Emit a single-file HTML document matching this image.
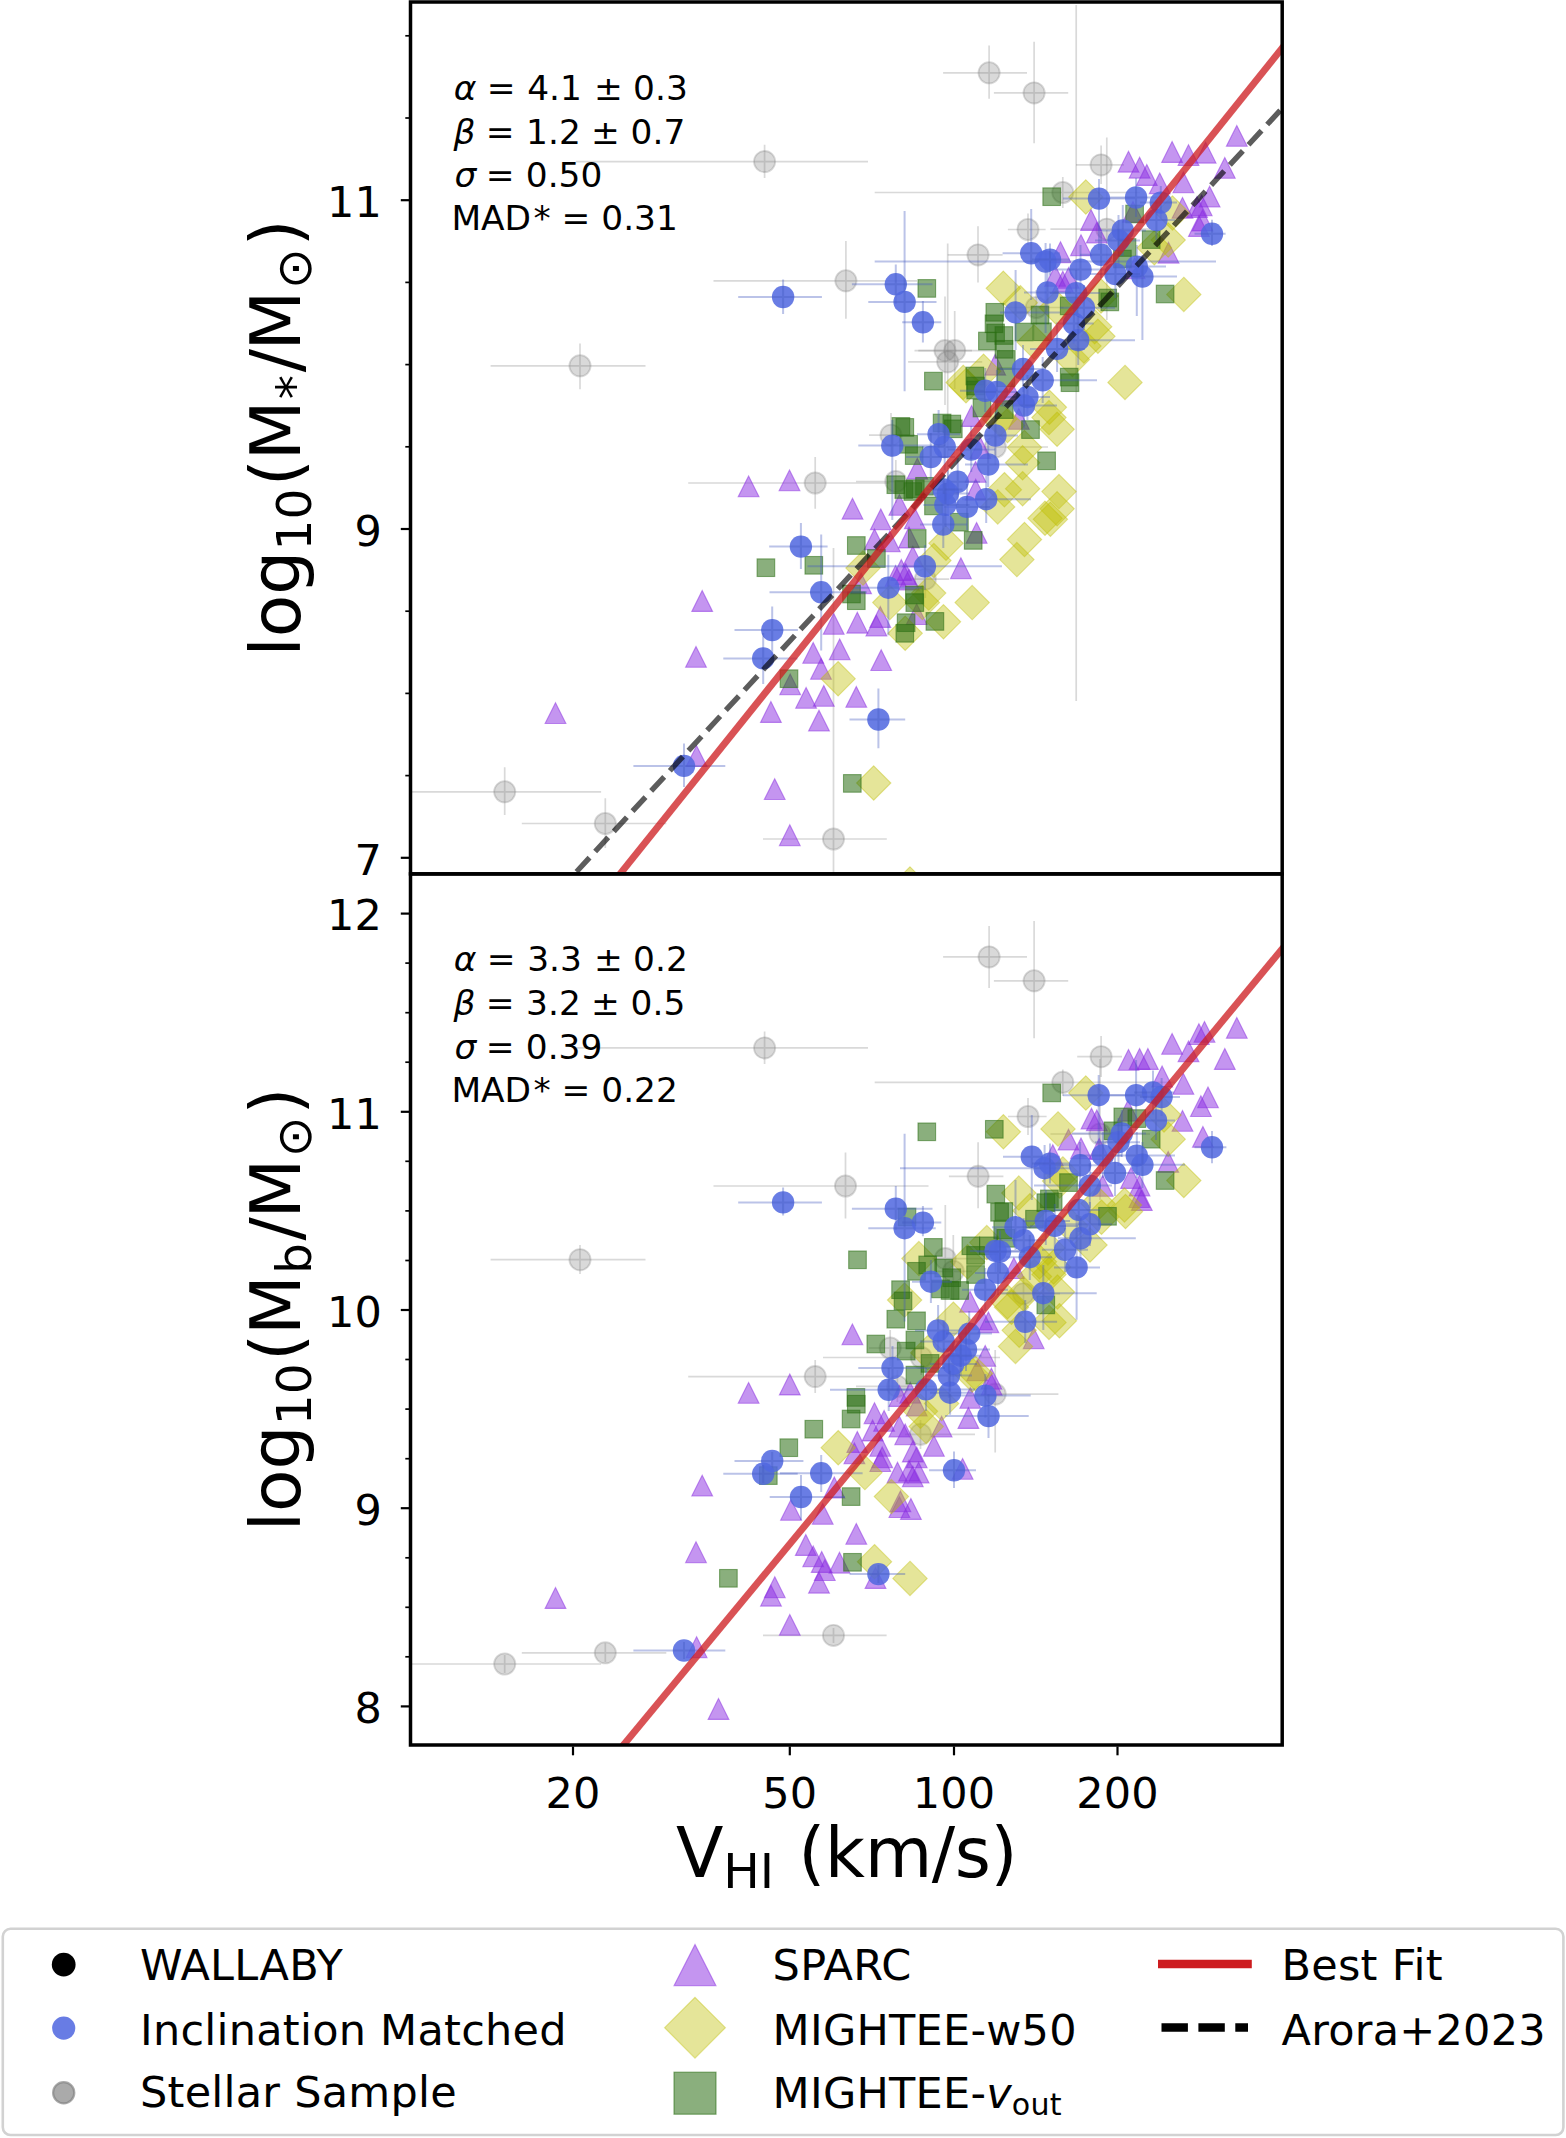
<!DOCTYPE html>
<html><head><meta charset="utf-8"><title>Tully-Fisher relations</title>
<style>html,body{margin:0;padding:0;background:#fff}svg{display:block}text{font-family:"DejaVu Sans", "Liberation Sans", sans-serif;fill:#000}.g{fill:#808080;fill-opacity:.3;stroke:#808080;stroke-opacity:.3;stroke-width:1.8}.ge{stroke:#808080;stroke-opacity:.3;stroke-width:1.7;fill:none}.b{fill:#5068e0;fill-opacity:.86;stroke:none}.be{stroke:#4258c0;stroke-opacity:.36;stroke-width:2;fill:none}.p{fill:#8a2be2;fill-opacity:.5;stroke:#8a2be2;stroke-opacity:.5;stroke-width:1.1;stroke-linejoin:miter}.y{fill:#bfbf00;fill-opacity:.4;stroke:#bfbf00;stroke-opacity:.4;stroke-width:1.1}.s{fill:#2a6e12;fill-opacity:.55;stroke:#2a6e12;stroke-opacity:.55;stroke-width:1.1}.sp{stroke:#000;stroke-width:3.5;fill:none}.tk{stroke:#000;stroke-width:2.2}.mk{stroke:#000;stroke-width:1.7}</style></head><body>
<svg width="1566" height="2138" viewBox="0 0 1566 2138">
<rect width="1566" height="2138" fill="#fff"/>
<defs><clipPath id="c1"><rect x="410.5" y="2.0" width="871.7" height="871.9"/></clipPath><clipPath id="c2"><rect x="410.5" y="873.9" width="871.7" height="871.1"/></clipPath></defs>
<g clip-path="url(#c1)">
<circle class="g" cx="764.6" cy="161.6" r="10.6"/>
<path class="ge" d="M575.8 161.6H868M764.6 144.7V177.9"/>
<circle class="g" cx="845.9" cy="280.8" r="10.6"/>
<path class="ge" d="M713.5 280.8H917M845.9 240.9V318.8"/>
<circle class="g" cx="580" cy="365.8" r="10.6"/>
<path class="ge" d="M490.6 365.8H645.5M580 343.4V389.2"/>
<circle class="g" cx="989.1" cy="72.8" r="10.6"/>
<path class="ge" d="M943.1 72.8H1027M989.1 45.6V98.7"/>
<circle class="g" cx="1034.1" cy="92.9" r="10.6"/>
<path class="ge" d="M993.9 92.9H1068.2M1034.1 41.8V143.3"/>
<circle class="g" cx="1101.1" cy="164.9" r="10.6"/>
<path class="ge" d="M1076 164.9H1124M1101.1 145.6V184"/>
<circle class="g" cx="1062.8" cy="192.5" r="10.6"/>
<path class="ge" d="M874.7 192.5H1140M1062.8 177V208"/>
<circle class="g" cx="1028" cy="229.5" r="10.6"/>
<path class="ge" d="M1007.9 229.5H1045.6M1028 213.6V245"/>
<circle class="g" cx="978" cy="254.9" r="10.6"/>
<path class="ge" d="M947.7 254.9H1002.6M978 226.2V282.4"/>
<circle class="g" cx="1106.8" cy="229.2" r="10.6"/>
<path class="ge" d="M1050.4 229.2H1150M1106.8 137.5V320"/>
<circle class="g" cx="945" cy="350.6" r="10.6"/>
<path class="ge" d="M918.3 350.6H972M945 296.4V405"/>
<circle class="g" cx="954.7" cy="350.6" r="10.6"/>
<path class="ge" d="M914.5 350.6H1000M954.7 311.1V389"/>
<circle class="g" cx="947.7" cy="361.8" r="10.6"/>
<path class="ge" d="M908.1 361.8H982.2M947.7 243.4V480"/>
<circle class="g" cx="1036.3" cy="307.5" r="10.6"/>
<path class="ge" d="M1004 307.5H1063.5M1036.3 290V325"/>
<circle class="g" cx="891" cy="435.2" r="10.6"/>
<path class="ge" d="M869 435.2H915M891 413V457"/>
<circle class="g" cx="815.2" cy="483" r="10.6"/>
<path class="ge" d="M688.2 483H889.4M815.2 456.9V508.8"/>
<circle class="g" cx="895.8" cy="481.5" r="10.6"/>
<path class="ge" d="M856 481.5H935M895.8 460V503"/>
<circle class="g" cx="995.3" cy="447" r="10.6"/>
<path class="ge" d="M980 447H1048M995.3 430V465"/>
<circle class="g" cx="504.7" cy="791.8" r="10.6"/>
<path class="ge" d="M400 791.8H601.1M504.7 767.3V815.1"/>
<circle class="g" cx="605.3" cy="823.5" r="10.6"/>
<path class="ge" d="M521.8 823.5H666.3M605.3 798.2V848"/>
<circle class="g" cx="833.5" cy="839" r="10.6"/>
<path class="ge" d="M763 839H886.8M833.5 548V900"/>
<path class="ge" d="M1076.2 352H1076.2M1076.2 5V701"/>
<circle class="g" cx="925.3" cy="579.2" r="10.6"/>
<path class="ge" d="M905 579.2H949M925.3 560V598"/>
<path class="p" d="M1236.8 125.5L1247.2 146.3H1226.4Z"/>
<path class="p" d="M1172.1 141.6L1182.5 162.4H1161.7Z"/>
<path class="p" d="M1188.5 144.7L1198.9 165.5H1178.1Z"/>
<path class="p" d="M1205.6 142.3L1216 163.1H1195.2Z"/>
<path class="p" d="M1128.5 151.3L1138.9 172.1H1118.1Z"/>
<path class="p" d="M1139.6 157.3L1150 178.1H1129.2Z"/>
<path class="p" d="M1146.8 164.6L1157.2 185.4H1136.4Z"/>
<path class="p" d="M1159.7 173L1170.1 193.8H1149.3Z"/>
<path class="p" d="M1224.8 157.4L1235.2 178.2H1214.4Z"/>
<path class="p" d="M1183.4 172L1193.8 192.8H1173Z"/>
<path class="p" d="M1209.6 186.2L1220 207H1199.2Z"/>
<path class="p" d="M1182.5 197.4L1192.9 218.2H1172.1Z"/>
<path class="p" d="M1201.7 195L1212.1 215.8H1191.3Z"/>
<path class="p" d="M1202.5 210.1L1212.9 230.9H1192.1Z"/>
<path class="p" d="M1197 196.6L1207.4 217.4H1186.6Z"/>
<path class="p" d="M1091 209.6L1101.4 230.4H1080.6Z"/>
<path class="p" d="M1096.8 222.2L1107.2 243H1086.4Z"/>
<path class="p" d="M1081 234.8L1091.4 255.6H1070.6Z"/>
<path class="p" d="M1060.5 241.8L1070.9 262.6H1050.1Z"/>
<path class="p" d="M1168.5 242.3L1178.9 263.1H1158.1Z"/>
<path class="p" d="M1198.9 215.6L1209.3 236.4H1188.5Z"/>
<path class="p" d="M1055.2 265.5L1065.6 286.3H1044.8Z"/>
<path class="p" d="M1062.8 271.2L1073.2 292H1052.4Z"/>
<path class="p" d="M1068.6 267.4L1079 288.2H1058.2Z"/>
<path class="p" d="M1134.7 257.8L1145.1 278.6H1124.3Z"/>
<path class="p" d="M1133 201.4L1143.4 222.2H1122.6Z"/>
<path class="p" d="M995.2 354.3L1005.6 375.1H984.8Z"/>
<path class="p" d="M971.6 405.6L982 426.4H961.2Z"/>
<path class="p" d="M917.3 458.3L927.7 479.1H906.9Z"/>
<path class="p" d="M1012.3 383.3L1022.7 404.1H1001.9Z"/>
<path class="p" d="M980.4 437.6L990.8 458.4H970Z"/>
<path class="p" d="M975.6 461.5L986 482.3H965.2Z"/>
<path class="p" d="M976.6 522.4L987 543.2H966.2Z"/>
<path class="p" d="M960.9 557.8L971.3 578.6H950.5Z"/>
<path class="p" d="M905.7 563.6L916.1 584.4H895.3Z"/>
<path class="p" d="M1018.8 408.4L1029.2 429.2H1008.4Z"/>
<path class="p" d="M975.7 479.3L986.1 500.1H965.3Z"/>
<path class="p" d="M789.5 469.9L799.9 490.7H779.1Z"/>
<path class="p" d="M748.6 475.9L759 496.7H738.2Z"/>
<path class="p" d="M852.5 498.3L862.9 519.1H842.1Z"/>
<path class="p" d="M880.8 508.9L891.2 529.7H870.4Z"/>
<path class="p" d="M899.4 494.5L909.8 515.3H889Z"/>
<path class="p" d="M874.5 529L884.9 549.8H864.1Z"/>
<path class="p" d="M889.8 530.9L900.2 551.7H879.4Z"/>
<path class="p" d="M914.8 507.9L925.2 528.7H904.4Z"/>
<path class="p" d="M909 527.1L919.4 547.9H898.6Z"/>
<path class="p" d="M901.3 559.6L911.7 580.4H890.9Z"/>
<path class="p" d="M909 569.2L919.4 590H898.6Z"/>
<path class="p" d="M895.6 565.4L906 586.2H885.2Z"/>
<path class="p" d="M912.8 546.2L923.2 567H902.4Z"/>
<path class="p" d="M833.7 613.4L844.1 634.2H823.3Z"/>
<path class="p" d="M857.3 612.3L867.7 633.1H846.9Z"/>
<path class="p" d="M876.4 615.2L886.8 636H866Z"/>
<path class="p" d="M880.3 606.6L890.7 627.4H869.9Z"/>
<path class="p" d="M813.2 642.5L823.6 663.3H802.8Z"/>
<path class="p" d="M839.7 639L850.1 659.8H829.3Z"/>
<path class="p" d="M821 658.4L831.4 679.2H810.6Z"/>
<path class="p" d="M881.2 649.7L891.6 670.5H870.8Z"/>
<path class="p" d="M790.2 673.9L800.6 694.7H779.8Z"/>
<path class="p" d="M806.1 687.5L816.5 708.3H795.7Z"/>
<path class="p" d="M823.8 685.4L834.2 706.2H813.4Z"/>
<path class="p" d="M856.3 686.4L866.7 707.2H845.9Z"/>
<path class="p" d="M770.9 701.6L781.3 722.4H760.5Z"/>
<path class="p" d="M819 710.2L829.4 731H808.6Z"/>
<path class="p" d="M774.7 778.7L785.1 799.5H764.3Z"/>
<path class="p" d="M789.8 824.8L800.2 845.6H779.4Z"/>
<path class="p" d="M861.1 573L871.5 593.8H850.7Z"/>
<path class="p" d="M916.7 603.7L927.1 624.5H906.3Z"/>
<path class="p" d="M702.2 590.6L712.6 611.4H691.8Z"/>
<path class="p" d="M696 646.5L706.4 667.3H685.6Z"/>
<path class="p" d="M555.5 702.7L565.9 723.5H545.1Z"/>
<path class="p" d="M696.6 745.7L707 766.5H686.2Z"/>
<path class="y" d="M1085.8 179.8L1103 197L1085.8 214.2L1068.6 197Z"/>
<path class="y" d="M1003.3 271.1L1020.5 288.3L1003.3 305.5L986.1 288.3Z"/>
<path class="y" d="M1168.2 222.8L1185.4 240L1168.2 257.2L1151 240Z"/>
<path class="y" d="M1154.3 230.6L1171.5 247.8L1154.3 265L1137.1 247.8Z"/>
<path class="y" d="M1183.8 277.2L1201 294.4L1183.8 311.6L1166.6 294.4Z"/>
<path class="y" d="M1101 278.8L1118.2 296L1101 313.2L1083.8 296Z"/>
<path class="y" d="M1172.5 195.8L1189.7 213L1172.5 230.2L1155.3 213Z"/>
<path class="y" d="M1056.4 290.3L1073.6 307.5L1056.4 324.7L1039.2 307.5Z"/>
<path class="y" d="M1094.7 309.5L1111.9 326.7L1094.7 343.9L1077.5 326.7Z"/>
<path class="y" d="M1097.9 319.1L1115.1 336.3L1097.9 353.5L1080.7 336.3Z"/>
<path class="y" d="M1020.3 285.5L1037.5 302.7L1020.3 319.9L1003.1 302.7Z"/>
<path class="y" d="M966 368.5L983.2 385.7L966 402.9L948.8 385.7Z"/>
<path class="y" d="M983.6 354.1L1000.8 371.3L983.6 388.5L966.4 371.3Z"/>
<path class="y" d="M1049 400.4L1066.2 417.6L1049 434.8L1031.8 417.6Z"/>
<path class="y" d="M1007.5 408.4L1024.7 425.6L1007.5 442.8L990.3 425.6Z"/>
<path class="y" d="M999.6 402L1016.8 419.2L999.6 436.4L982.4 419.2Z"/>
<path class="y" d="M1125 365.2L1142.2 382.4L1125 399.6L1107.8 382.4Z"/>
<path class="y" d="M963.2 365.2L980.4 382.4L963.2 399.6L946 382.4Z"/>
<path class="y" d="M1049.4 390.1L1066.6 407.3L1049.4 424.5L1032.2 407.3Z"/>
<path class="y" d="M1057.1 412.1L1074.3 429.3L1057.1 446.5L1039.9 429.3Z"/>
<path class="y" d="M1059 474.4L1076.2 491.6L1059 508.8L1041.8 491.6Z"/>
<path class="y" d="M1057.1 491.6L1074.3 508.8L1057.1 526L1039.9 508.8Z"/>
<path class="y" d="M1050.4 502.1L1067.6 519.3L1050.4 536.5L1033.2 519.3Z"/>
<path class="y" d="M1022.6 471.5L1039.8 488.7L1022.6 505.9L1005.4 488.7Z"/>
<path class="y" d="M1004.4 472.5L1021.6 489.7L1004.4 506.9L987.2 489.7Z"/>
<path class="y" d="M1024.5 522.3L1041.7 539.5L1024.5 556.7L1007.3 539.5Z"/>
<path class="y" d="M1016.9 542.4L1034.1 559.6L1016.9 576.8L999.7 559.6Z"/>
<path class="y" d="M997.7 489.7L1014.9 506.9L997.7 524.1L980.5 506.9Z"/>
<path class="y" d="M1024.5 430.3L1041.7 447.5L1024.5 464.7L1007.3 447.5Z"/>
<path class="y" d="M1022.6 445.6L1039.8 462.8L1022.6 480L1005.4 462.8Z"/>
<path class="y" d="M1083.9 328.8L1101.1 346L1083.9 363.2L1066.7 346Z"/>
<path class="y" d="M1072.4 342.2L1089.6 359.4L1072.4 376.6L1055.2 359.4Z"/>
<path class="y" d="M946 526.1L963.2 543.3L946 560.5L928.8 543.3Z"/>
<path class="y" d="M928.7 575.9L945.9 593.1L928.7 610.3L911.5 593.1Z"/>
<path class="y" d="M1034.1 324.9L1051.3 342.1L1034.1 359.3L1016.9 342.1Z"/>
<path class="y" d="M838.1 661.5L855.3 678.7L838.1 695.9L820.9 678.7Z"/>
<path class="y" d="M972.2 585.4L989.4 602.6L972.2 619.8L955 602.6Z"/>
<path class="y" d="M889.8 585.4L907 602.6L889.8 619.8L872.6 602.6Z"/>
<path class="y" d="M905.2 616.1L922.4 633.3L905.2 650.5L888 633.3Z"/>
<path class="y" d="M943.5 604.6L960.7 621.8L943.5 639L926.3 621.8Z"/>
<path class="y" d="M922.4 585.4L939.6 602.6L922.4 619.8L905.2 602.6Z"/>
<path class="y" d="M863 550.9L880.2 568.1L863 585.3L845.8 568.1Z"/>
<path class="y" d="M1045 501.1L1062.2 518.3L1045 535.5L1027.8 518.3Z"/>
<path class="y" d="M933.9 543.3L951.1 560.5L933.9 577.7L916.7 560.5Z"/>
<path class="y" d="M873.7 765.8L890.9 783L873.7 800.2L856.5 783Z"/>
<path class="y" d="M910 866.8L927.2 884L910 901.2L892.8 884Z"/>
<rect class="s" x="1042.9" y="187.9" width="17.6" height="17.6"/>
<rect class="s" x="918" y="279.6" width="17.6" height="17.6"/>
<rect class="s" x="1142.4" y="230.8" width="17.6" height="17.6"/>
<rect class="s" x="1098.9" y="289.2" width="17.6" height="17.6"/>
<rect class="s" x="1156.3" y="285.2" width="17.6" height="17.6"/>
<rect class="s" x="1125.8" y="205.2" width="17.6" height="17.6"/>
<rect class="s" x="1118.2" y="238.7" width="17.6" height="17.6"/>
<rect class="s" x="1113.6" y="250.2" width="17.6" height="17.6"/>
<rect class="s" x="1060.4" y="297.1" width="17.6" height="17.6"/>
<rect class="s" x="986" y="303.5" width="17.6" height="17.6"/>
<rect class="s" x="985.2" y="315" width="17.6" height="17.6"/>
<rect class="s" x="986.8" y="324.2" width="17.6" height="17.6"/>
<rect class="s" x="978.6" y="332.2" width="17.6" height="17.6"/>
<rect class="s" x="995.1" y="326.7" width="17.6" height="17.6"/>
<rect class="s" x="995.2" y="340.5" width="17.6" height="17.6"/>
<rect class="s" x="1015.2" y="323.2" width="17.6" height="17.6"/>
<rect class="s" x="1031.2" y="306.2" width="17.6" height="17.6"/>
<rect class="s" x="1033.6" y="323" width="17.6" height="17.6"/>
<rect class="s" x="924.6" y="372.3" width="17.6" height="17.6"/>
<rect class="s" x="966" y="367.2" width="17.6" height="17.6"/>
<rect class="s" x="966.8" y="377.2" width="17.6" height="17.6"/>
<rect class="s" x="966.9" y="381.2" width="17.6" height="17.6"/>
<rect class="s" x="997.1" y="368.9" width="17.6" height="17.6"/>
<rect class="s" x="997.5" y="350.6" width="17.6" height="17.6"/>
<rect class="s" x="892.1" y="417.6" width="17.6" height="17.6"/>
<rect class="s" x="899.8" y="435.5" width="17.6" height="17.6"/>
<rect class="s" x="905.4" y="446.8" width="17.6" height="17.6"/>
<rect class="s" x="933.3" y="414.2" width="17.6" height="17.6"/>
<rect class="s" x="943" y="415.2" width="17.6" height="17.6"/>
<rect class="s" x="944.5" y="420" width="17.6" height="17.6"/>
<rect class="s" x="1021.7" y="420.8" width="17.6" height="17.6"/>
<rect class="s" x="1037.8" y="452" width="17.6" height="17.6"/>
<rect class="s" x="887" y="475.9" width="17.6" height="17.6"/>
<rect class="s" x="895" y="480.7" width="17.6" height="17.6"/>
<rect class="s" x="915.7" y="477.5" width="17.6" height="17.6"/>
<rect class="s" x="995.5" y="400.8" width="17.6" height="17.6"/>
<rect class="s" x="973.2" y="399.2" width="17.6" height="17.6"/>
<rect class="s" x="1060.4" y="368.3" width="17.6" height="17.6"/>
<rect class="s" x="1061.2" y="373.9" width="17.6" height="17.6"/>
<rect class="s" x="1101" y="293.1" width="17.6" height="17.6"/>
<rect class="s" x="896" y="418.6" width="17.6" height="17.6"/>
<rect class="s" x="908.4" y="529.7" width="17.6" height="17.6"/>
<rect class="s" x="964.4" y="531.6" width="17.6" height="17.6"/>
<rect class="s" x="906.5" y="479.9" width="17.6" height="17.6"/>
<rect class="s" x="924.7" y="497.1" width="17.6" height="17.6"/>
<rect class="s" x="950.6" y="513.4" width="17.6" height="17.6"/>
<rect class="s" x="905.6" y="586.2" width="17.6" height="17.6"/>
<rect class="s" x="757.1" y="558.9" width="17.6" height="17.6"/>
<rect class="s" x="805" y="556.5" width="17.6" height="17.6"/>
<rect class="s" x="847.5" y="536.7" width="17.6" height="17.6"/>
<rect class="s" x="867.6" y="549.7" width="17.6" height="17.6"/>
<rect class="s" x="842.7" y="585.2" width="17.6" height="17.6"/>
<rect class="s" x="847.5" y="591.9" width="17.6" height="17.6"/>
<rect class="s" x="906" y="593.8" width="17.6" height="17.6"/>
<rect class="s" x="897.3" y="613.9" width="17.6" height="17.6"/>
<rect class="s" x="896" y="624.5" width="17.6" height="17.6"/>
<rect class="s" x="926.1" y="612.6" width="17.6" height="17.6"/>
<rect class="s" x="780.2" y="669.9" width="17.6" height="17.6"/>
<rect class="s" x="904" y="482.7" width="17.6" height="17.6"/>
<rect class="s" x="843.5" y="774.6" width="17.6" height="17.6"/>
<circle class="b" cx="783.1" cy="297" r="11.2"/>
<path class="be" d="M738.2 297H821.9M783.1 279.6V314.1"/>
<circle class="b" cx="1099" cy="198.6" r="11.2"/>
<path class="be" d="M1063 198.6H1135M1099 179V250"/>
<circle class="b" cx="1136.1" cy="197.5" r="11.2"/>
<path class="be" d="M1110 197.5H1162M1136.1 178V217"/>
<circle class="b" cx="1160.8" cy="202.6" r="11.2"/>
<path class="be" d="M1140 202.6H1177M1160.8 186V219"/>
<circle class="b" cx="1156.4" cy="220" r="11.2"/>
<path class="be" d="M1138 220H1175M1156.4 200V240"/>
<circle class="b" cx="1122.8" cy="230.4" r="11.2"/>
<path class="be" d="M1100 230.4H1146M1122.8 205V256"/>
<circle class="b" cx="1118.5" cy="240.4" r="11.2"/>
<path class="be" d="M1095 240.4H1140M1118.5 215V266"/>
<circle class="b" cx="1101.1" cy="254.8" r="11.2"/>
<path class="be" d="M1080 254.8H1122M1101.1 232V278"/>
<circle class="b" cx="1031.2" cy="253.3" r="11.2"/>
<path class="be" d="M1002.6 253.3H1060M1031.2 209V300"/>
<circle class="b" cx="1045.6" cy="261.5" r="11.2"/>
<path class="be" d="M874.7 261.5H1216M1045.6 243V333"/>
<circle class="b" cx="1080.5" cy="269.6" r="11.2"/>
<path class="be" d="M1055 269.6H1106M1080.5 245V295"/>
<circle class="b" cx="1136.8" cy="266.6" r="11.2"/>
<path class="be" d="M1115 266.6H1166M1136.8 245V316"/>
<circle class="b" cx="1142.4" cy="276.6" r="11.2"/>
<path class="be" d="M1120 276.6H1177M1142.4 255V340"/>
<circle class="b" cx="1115.4" cy="274" r="11.2"/>
<path class="be" d="M1090 274H1140M1115.4 250V298"/>
<circle class="b" cx="1047.5" cy="292.5" r="11.2"/>
<path class="be" d="M1024 292.5H1071M1047.5 270V315"/>
<circle class="b" cx="1076.2" cy="293.1" r="11.2"/>
<path class="be" d="M1050 293.1H1100M1076.2 270V316"/>
<circle class="b" cx="1212" cy="233.8" r="11.2"/>
<path class="be" d="M1194.5 233.8H1225.6M1212 219.7V246.1"/>
<circle class="b" cx="1073.9" cy="323.5" r="11.2"/>
<path class="be" d="M1055.9 323.5H1093.7M1073.9 303.5V343.5"/>
<circle class="b" cx="895.8" cy="284.3" r="11.2"/>
<path class="be" d="M851.9 284.3H932.5M895.8 264.4V304"/>
<circle class="b" cx="904.6" cy="301.9" r="11.2"/>
<path class="be" d="M868.3 301.9H936.5M904.6 211V391.3"/>
<circle class="b" cx="922.9" cy="322.3" r="11.2"/>
<path class="be" d="M902.2 322.3H941.3M922.9 301.1V342.6"/>
<circle class="b" cx="1015.6" cy="312.4" r="11.2"/>
<path class="be" d="M1000 312.4H1060M1015.6 270V350"/>
<circle class="b" cx="985.2" cy="390.8" r="11.2"/>
<path class="be" d="M960 390.8H1010M985.2 368V412"/>
<circle class="b" cx="996.9" cy="392" r="11.2"/>
<path class="be" d="M975 392H1020M996.9 370V415"/>
<circle class="b" cx="1023" cy="369" r="11.2"/>
<path class="be" d="M1000 369H1046M1023 345V392"/>
<circle class="b" cx="1042.7" cy="380.3" r="11.2"/>
<path class="be" d="M1020 380.3H1097M1042.7 357V403"/>
<circle class="b" cx="1027.4" cy="397" r="11.2"/>
<path class="be" d="M1004 397H1050M1027.4 375V420"/>
<circle class="b" cx="1024" cy="405.5" r="11.2"/>
<path class="be" d="M1000 405.5H1057M1024 383V428"/>
<circle class="b" cx="938.6" cy="434.2" r="11.2"/>
<path class="be" d="M917 434.2H960M938.6 410V457"/>
<circle class="b" cx="944.7" cy="447" r="11.2"/>
<path class="be" d="M922 447H967M944.7 425V470"/>
<circle class="b" cx="930.8" cy="457" r="11.2"/>
<path class="be" d="M906 457H955M930.8 433V480"/>
<circle class="b" cx="892.3" cy="445.6" r="11.2"/>
<path class="be" d="M858.3 445.6H945M892.3 420V520"/>
<circle class="b" cx="995.4" cy="435.5" r="11.2"/>
<path class="be" d="M970 435.5H1018M995.4 412V458"/>
<circle class="b" cx="971.2" cy="449.5" r="11.2"/>
<path class="be" d="M948 449.5H995M971.2 426V472"/>
<circle class="b" cx="988.2" cy="464.5" r="11.2"/>
<path class="be" d="M965 464.5H1028M988.2 441V487"/>
<circle class="b" cx="957.7" cy="481.8" r="11.2"/>
<path class="be" d="M935 481.8H980M957.7 458V505"/>
<circle class="b" cx="947.9" cy="493.5" r="11.2"/>
<path class="be" d="M925 493.5H970M947.9 470V516"/>
<circle class="b" cx="986.2" cy="499.2" r="11.2"/>
<path class="be" d="M962 499.2H1031M986.2 476V523"/>
<circle class="b" cx="967" cy="506.9" r="11.2"/>
<path class="be" d="M944 506.9H990M967 484V530"/>
<circle class="b" cx="943.3" cy="524.5" r="11.2"/>
<path class="be" d="M920 524.5H967M943.3 500V548"/>
<circle class="b" cx="943.7" cy="489.5" r="11.2"/>
<path class="be" d="M926.7 489.5H962.4M943.7 474.5V504.5"/>
<circle class="b" cx="1083.9" cy="307.7" r="11.2"/>
<path class="be" d="M1060 307.7H1115M1083.9 285V330"/>
<circle class="b" cx="1078.2" cy="340.2" r="11.2"/>
<path class="be" d="M1050 340.2H1135M1078.2 316V365"/>
<circle class="b" cx="1057.1" cy="348.9" r="11.2"/>
<path class="be" d="M1030 348.9H1085M1057.1 325V372"/>
<circle class="b" cx="924.9" cy="566.3" r="11.2"/>
<path class="be" d="M807.5 566.3H1001.9M924.9 545V590"/>
<circle class="b" cx="800.9" cy="546.6" r="11.2"/>
<path class="be" d="M769.2 546.6H827.6M800.9 523.1V569.1"/>
<circle class="b" cx="821.2" cy="592.3" r="11.2"/>
<path class="be" d="M769.5 592.3H866.9M821.2 534.6V650.5"/>
<circle class="b" cx="772.2" cy="630.1" r="11.2"/>
<path class="be" d="M734.5 630.1H797.9M772.2 606.4V655"/>
<circle class="b" cx="763.2" cy="658.4" r="11.2"/>
<path class="be" d="M723.3 658.4H797.5M763.2 633V684"/>
<circle class="b" cx="888.3" cy="587.7" r="11.2"/>
<path class="be" d="M854 587.7H922M888.3 554.7V635.2"/>
<circle class="b" cx="878.4" cy="719.5" r="11.2"/>
<path class="be" d="M849.5 719.5H905.2M878.4 688.4V748.3"/>
<circle class="b" cx="945.4" cy="504.9" r="11.2"/>
<path class="be" d="M923.4 504.9H969.6M945.4 482.9V526.9"/>
<circle class="b" cx="684" cy="765.9" r="11.2"/>
<path class="be" d="M633.4 765.9H725.3M684 743.5V787"/>
<circle class="b" cx="1050" cy="259.6" r="11.2"/>
<path class="be" d="M1032 259.6H1069.8M1050 243.6V275.6"/>
<path d="M557.84 891.92L1300 89.03" stroke="#000" stroke-opacity=".64" stroke-width="5.4" stroke-dasharray="19.2 8.3" fill="none"/>
<path d="M611.2 885L1290 38.2" stroke="#cd1c1f" stroke-opacity=".76" stroke-width="6.9" fill="none"/>
</g>
<g clip-path="url(#c2)">
<circle class="g" cx="764.6" cy="1047.9" r="10.6"/>
<path class="ge" d="M575.8 1047.9H868M764.6 1031.6V1063.9"/>
<circle class="g" cx="845.5" cy="1186" r="10.6"/>
<path class="ge" d="M713.5 1186H928.5M845.5 1152.4V1218.5"/>
<circle class="g" cx="580" cy="1259.7" r="10.6"/>
<path class="ge" d="M490.6 1259.7H645.5M580 1245V1274"/>
<circle class="g" cx="989.1" cy="956.9" r="10.6"/>
<path class="ge" d="M943.1 956.9H1027M989.1 925.9V988.1"/>
<circle class="g" cx="1034.1" cy="980.8" r="10.6"/>
<path class="ge" d="M993.9 980.8H1068.2M1034.1 921.1V1038.3"/>
<circle class="g" cx="1101.1" cy="1056.7" r="10.6"/>
<path class="ge" d="M1077.2 1056.7H1122M1101.1 1036V1077"/>
<circle class="g" cx="1062.8" cy="1082.3" r="10.6"/>
<path class="ge" d="M874.7 1082.3H1175M1062.8 1069.5V1096"/>
<circle class="g" cx="1028" cy="1116.5" r="10.6"/>
<path class="ge" d="M1008 1116.5H1046.6M1028 1098V1135"/>
<circle class="g" cx="978.1" cy="1176.3" r="10.6"/>
<path class="ge" d="M948.9 1176.3H1003.4M978.1 1142.3V1208.3"/>
<circle class="g" cx="1100" cy="1134" r="10.6"/>
<path class="ge" d="M1050.4 1134H1150M1100 1059V1200"/>
<circle class="g" cx="945.3" cy="1258.6" r="10.6"/>
<path class="ge" d="M932.5 1258.6H990M945.3 1205V1340"/>
<circle class="g" cx="953.3" cy="1271.3" r="10.6"/>
<path class="ge" d="M936 1271.3H972M953.3 1235V1300"/>
<circle class="g" cx="890.2" cy="1348" r="10.6"/>
<path class="ge" d="M869 1348H915M890.2 1330V1366"/>
<circle class="g" cx="921.3" cy="1357.5" r="10.6"/>
<path class="ge" d="M823 1357.5H1000M921.3 1340V1375"/>
<circle class="g" cx="1023.5" cy="1293.7" r="10.6"/>
<path class="ge" d="M1000 1293.7H1060M1023.5 1276V1311"/>
<circle class="g" cx="815.2" cy="1376.6" r="10.6"/>
<path class="ge" d="M688.2 1376.6H889.4M815.2 1360V1393"/>
<circle class="g" cx="897.4" cy="1386.3" r="10.6"/>
<path class="ge" d="M856 1386.3H935M897.4 1370V1402"/>
<circle class="g" cx="504.7" cy="1664" r="10.6"/>
<path class="ge" d="M400 1664H601.1M504.7 1655V1673"/>
<circle class="g" cx="605.3" cy="1652.8" r="10.6"/>
<path class="ge" d="M521.8 1652.8H666.3M605.3 1643V1662"/>
<circle class="g" cx="833.5" cy="1635.4" r="10.6"/>
<path class="ge" d="M763 1635.4H886.6M833.5 1628V1643"/>
<circle class="g" cx="920.5" cy="1434.3" r="10.6"/>
<path class="ge" d="M905 1434.3H975M920.5 1420V1449"/>
<circle class="g" cx="995.2" cy="1394.1" r="10.6"/>
<path class="ge" d="M975 1394.1H1058.4M995.2 1350V1452.5"/>
<path class="p" d="M1236.8 1017.5L1247.2 1038.3H1226.4Z"/>
<path class="p" d="M1204.5 1021.5L1214.9 1042.3H1194.1Z"/>
<path class="p" d="M1172.1 1033.4L1182.5 1054.2H1161.7Z"/>
<path class="p" d="M1188.5 1041L1198.9 1061.8H1178.1Z"/>
<path class="p" d="M1224.8 1048.6L1235.2 1069.4H1214.4Z"/>
<path class="p" d="M1128.5 1049.5L1138.9 1070.3H1118.1Z"/>
<path class="p" d="M1139.6 1048.6L1150 1069.4H1129.2Z"/>
<path class="p" d="M1147.9 1048.6L1158.3 1069.4H1137.5Z"/>
<path class="p" d="M1162.1 1066.1L1172.5 1086.9H1151.7Z"/>
<path class="p" d="M1183.4 1073.4L1193.8 1094.2H1173Z"/>
<path class="p" d="M1208 1086.9L1218.4 1107.7H1197.6Z"/>
<path class="p" d="M1200.9 1095.7L1211.3 1116.5H1190.5Z"/>
<path class="p" d="M1182.5 1110.4L1192.9 1131.2H1172.1Z"/>
<path class="p" d="M1202.9 1126.4L1213.3 1147.2H1192.5Z"/>
<path class="p" d="M1198.9 1023.7L1209.3 1044.5H1188.5Z"/>
<path class="p" d="M1091.5 1108.2L1101.9 1129H1081.1Z"/>
<path class="p" d="M1096.8 1110L1107.2 1130.8H1086.4Z"/>
<path class="p" d="M1068.5 1129.2L1078.9 1150H1058.1Z"/>
<path class="p" d="M1081 1137.9L1091.4 1158.7H1070.6Z"/>
<path class="p" d="M1052.8 1144.8L1063.2 1165.6H1042.4Z"/>
<path class="p" d="M1099.2 1138.6L1109.6 1159.4H1088.8Z"/>
<path class="p" d="M1168.2 1151.4L1178.6 1172.2H1157.8Z"/>
<path class="p" d="M1131 1167.6L1141.4 1188.4H1120.6Z"/>
<path class="p" d="M1139.5 1175.2L1149.9 1196H1129.1Z"/>
<path class="p" d="M1139.4 1186.7L1149.8 1207.5H1129Z"/>
<path class="p" d="M1102.7 1175.5L1113.1 1196.3H1092.3Z"/>
<path class="p" d="M1128 1100.3L1138.4 1121.1H1117.6Z"/>
<path class="p" d="M852.4 1324L862.8 1344.8H842Z"/>
<path class="p" d="M970 1291.3L980.4 1312.1H959.6Z"/>
<path class="p" d="M988.4 1312L998.8 1332.8H978Z"/>
<path class="p" d="M982 1308.8L992.4 1329.6H971.6Z"/>
<path class="p" d="M1033.7 1327.8L1044.1 1348.6H1023.3Z"/>
<path class="p" d="M985.2 1345.5L995.6 1366.3H974.8Z"/>
<path class="p" d="M977.2 1359.9L987.6 1380.7H966.8Z"/>
<path class="p" d="M991.6 1374.3L1002 1395.1H981.2Z"/>
<path class="p" d="M1013.9 1257.7L1024.3 1278.5H1003.5Z"/>
<path class="p" d="M910.2 1382.3L920.6 1403.1H899.8Z"/>
<path class="p" d="M1141.8 1189.6L1152.2 1210.4H1131.4Z"/>
<path class="p" d="M789.8 1374.1L800.2 1394.9H779.4Z"/>
<path class="p" d="M748.6 1382.4L759 1403.2H738.2Z"/>
<path class="p" d="M874.5 1402.8L884.9 1423.6H864.1Z"/>
<path class="p" d="M884.1 1410.5L894.5 1431.3H873.7Z"/>
<path class="p" d="M872.6 1420.1L883 1440.9H862.2Z"/>
<path class="p" d="M899.4 1416.2L909.8 1437H889Z"/>
<path class="p" d="M899.4 1385.6L909.8 1406.4H889Z"/>
<path class="p" d="M916.7 1395.2L927.1 1416H906.3Z"/>
<path class="p" d="M857.3 1431.6L867.7 1452.4H846.9Z"/>
<path class="p" d="M854.4 1443L864.8 1463.8H844Z"/>
<path class="p" d="M880.3 1435.4L890.7 1456.2H869.9Z"/>
<path class="p" d="M882.2 1446.9L892.6 1467.7H871.8Z"/>
<path class="p" d="M905.2 1423.9L915.6 1444.7H894.8Z"/>
<path class="p" d="M912.8 1441.1L923.2 1461.9H902.4Z"/>
<path class="p" d="M916.7 1446.9L927.1 1467.7H906.3Z"/>
<path class="p" d="M933.9 1435.4L944.3 1456.2H923.5Z"/>
<path class="p" d="M941.6 1416.2L952 1437H931.2Z"/>
<path class="p" d="M897.5 1462.2L907.9 1483H887.1Z"/>
<path class="p" d="M909 1460.3L919.4 1481.1H898.6Z"/>
<path class="p" d="M918.6 1462.2L929 1483H908.2Z"/>
<path class="p" d="M912.8 1466L923.2 1486.8H902.4Z"/>
<path class="p" d="M880.3 1450.7L890.7 1471.5H869.9Z"/>
<path class="p" d="M834.3 1477.1L844.7 1497.9H823.9Z"/>
<path class="p" d="M791 1499.4L801.4 1520.2H780.6Z"/>
<path class="p" d="M822.7 1503.4L833.1 1524.2H812.3Z"/>
<path class="p" d="M900.4 1490.9L910.8 1511.7H890Z"/>
<path class="p" d="M899.4 1496.7L909.8 1517.5H889Z"/>
<path class="p" d="M910.9 1498.6L921.3 1519.4H900.5Z"/>
<path class="p" d="M856.3 1523.5L866.7 1544.3H845.9Z"/>
<path class="p" d="M805.8 1534.6L816.2 1555.4H795.4Z"/>
<path class="p" d="M813.2 1546L823.6 1566.8H802.8Z"/>
<path class="p" d="M821.7 1551.6L832.1 1572.4H811.3Z"/>
<path class="p" d="M824.8 1559.7L835.2 1580.5H814.4Z"/>
<path class="p" d="M839.5 1552.3L849.9 1573.1H829.1Z"/>
<path class="p" d="M819 1572.3L829.4 1593.1H808.6Z"/>
<path class="p" d="M774.8 1576.8L785.2 1597.6H764.4Z"/>
<path class="p" d="M771 1585.3L781.4 1606.1H760.6Z"/>
<path class="p" d="M789.8 1614.4L800.2 1635.2H779.4Z"/>
<path class="p" d="M875.5 1567.6L885.9 1588.4H865.1Z"/>
<path class="p" d="M968.4 1407.6L978.8 1428.4H958Z"/>
<path class="p" d="M970.3 1387.5L980.7 1408.3H959.9Z"/>
<path class="p" d="M991.4 1368.3L1001.8 1389.1H981Z"/>
<path class="p" d="M962.6 1458.4L973 1479.2H952.2Z"/>
<path class="p" d="M702.2 1475.2L712.6 1496H691.8Z"/>
<path class="p" d="M696 1541.8L706.4 1562.6H685.6Z"/>
<path class="p" d="M555.5 1587.6L565.9 1608.4H545.1Z"/>
<path class="p" d="M696.6 1636.8L707 1657.6H686.2Z"/>
<path class="p" d="M718.5 1698.6L728.9 1719.4H708.1Z"/>
<path class="y" d="M1003.4 1114.6L1020.6 1131.8L1003.4 1149L986.2 1131.8Z"/>
<path class="y" d="M1058 1111.7L1075.2 1128.9L1058 1146.1L1040.8 1128.9Z"/>
<path class="y" d="M1085.8 1075.8L1103 1093L1085.8 1110.2L1068.6 1093Z"/>
<path class="y" d="M1168.2 1122L1185.4 1139.2L1168.2 1156.4L1151 1139.2Z"/>
<path class="y" d="M1164 1097.8L1181.2 1115L1164 1132.2L1146.8 1115Z"/>
<path class="y" d="M1183.8 1163.3L1201 1180.5L1183.8 1197.7L1166.6 1180.5Z"/>
<path class="y" d="M1062.8 1156.7L1080 1173.9L1062.8 1191.1L1045.6 1173.9Z"/>
<path class="y" d="M1018.8 1175.9L1036 1193.1L1018.8 1210.3L1001.6 1193.1Z"/>
<path class="y" d="M1124.5 1187.8L1141.7 1205L1124.5 1222.2L1107.3 1205Z"/>
<path class="y" d="M1097.9 1186.3L1115.1 1203.5L1097.9 1220.7L1080.7 1203.5Z"/>
<path class="y" d="M1059.6 1163.9L1076.8 1181.1L1059.6 1198.3L1042.4 1181.1Z"/>
<path class="y" d="M1070.8 1208.6L1088 1225.8L1070.8 1243L1053.6 1225.8Z"/>
<path class="y" d="M918.9 1241.4L936.1 1258.6L918.9 1275.8L901.7 1258.6Z"/>
<path class="y" d="M904.6 1282.9L921.8 1300.1L904.6 1317.3L887.4 1300.1Z"/>
<path class="y" d="M1029.9 1193.5L1047.1 1210.7L1029.9 1227.9L1012.7 1210.7Z"/>
<path class="y" d="M986.8 1225.4L1004 1242.6L986.8 1259.8L969.6 1242.6Z"/>
<path class="y" d="M953.3 1302L970.5 1319.2L953.3 1336.4L936.1 1319.2Z"/>
<path class="y" d="M1015.5 1329.2L1032.7 1346.4L1015.5 1363.6L998.3 1346.4Z"/>
<path class="y" d="M1007.5 1284.5L1024.7 1301.7L1007.5 1318.9L990.3 1301.7Z"/>
<path class="y" d="M1023.5 1276.5L1040.7 1293.7L1023.5 1310.9L1006.3 1293.7Z"/>
<path class="y" d="M1039.5 1244.6L1056.7 1261.8L1039.5 1279L1022.3 1261.8Z"/>
<path class="y" d="M1049 1257.3L1066.2 1274.5L1049 1291.7L1031.8 1274.5Z"/>
<path class="y" d="M975.6 1356.3L992.8 1373.5L975.6 1390.7L958.4 1373.5Z"/>
<path class="y" d="M927.7 1335.5L944.9 1352.7L927.7 1369.9L910.5 1352.7Z"/>
<path class="y" d="M1049 1305.2L1066.2 1322.4L1049 1339.6L1031.8 1322.4Z"/>
<path class="y" d="M967.6 1244.6L984.8 1261.8L967.6 1279L950.4 1261.8Z"/>
<path class="y" d="M1125.5 1194.3L1142.7 1211.5L1125.5 1228.7L1108.3 1211.5Z"/>
<path class="y" d="M1090 1227.8L1107.2 1245L1090 1262.2L1072.8 1245Z"/>
<path class="y" d="M1101.5 1200L1118.7 1217.2L1101.5 1234.4L1084.3 1217.2Z"/>
<path class="y" d="M1059.4 1303.5L1076.6 1320.7L1059.4 1337.9L1042.2 1320.7Z"/>
<path class="y" d="M1053.6 1249.8L1070.8 1267L1053.6 1284.2L1036.4 1267Z"/>
<path class="y" d="M1047.9 1230.7L1065.1 1247.9L1047.9 1265.1L1030.7 1247.9Z"/>
<path class="y" d="M1057.5 1274.8L1074.7 1292L1057.5 1309.2L1040.3 1292Z"/>
<path class="y" d="M1011.5 1290.1L1028.7 1307.3L1011.5 1324.5L994.3 1307.3Z"/>
<path class="y" d="M1034.5 1259.4L1051.7 1276.6L1034.5 1293.8L1017.3 1276.6Z"/>
<path class="y" d="M1019.2 1313.1L1036.4 1330.3L1019.2 1347.5L1002 1330.3Z"/>
<path class="y" d="M838.2 1430.5L855.4 1447.7L838.2 1464.9L821 1447.7Z"/>
<path class="y" d="M864.9 1455.4L882.1 1472.6L864.9 1489.8L847.7 1472.6Z"/>
<path class="y" d="M891.4 1479.4L908.6 1496.6L891.4 1513.8L874.2 1496.6Z"/>
<path class="y" d="M874.5 1544.5L891.7 1561.7L874.5 1578.9L857.3 1561.7Z"/>
<path class="y" d="M910 1561.2L927.2 1578.4L910 1595.6L892.8 1578.4Z"/>
<path class="y" d="M926.2 1409.4L943.4 1426.6L926.2 1443.8L909 1426.6Z"/>
<path class="y" d="M941.6 1386.4L958.8 1403.6L941.6 1420.8L924.4 1403.6Z"/>
<path class="y" d="M972.2 1357.7L989.4 1374.9L972.2 1392.1L955 1374.9Z"/>
<path class="y" d="M920.5 1394.1L937.7 1411.3L920.5 1428.5L903.3 1411.3Z"/>
<rect class="s" x="918" y="1123" width="17.6" height="17.6"/>
<rect class="s" x="985.5" y="1120.5" width="17.6" height="17.6"/>
<rect class="s" x="1042.9" y="1084.1" width="17.6" height="17.6"/>
<rect class="s" x="1114" y="1108.1" width="17.6" height="17.6"/>
<rect class="s" x="1128" y="1109.8" width="17.6" height="17.6"/>
<rect class="s" x="1142.4" y="1130.4" width="17.6" height="17.6"/>
<rect class="s" x="1104.2" y="1122" width="17.6" height="17.6"/>
<rect class="s" x="1059.7" y="1173.8" width="17.6" height="17.6"/>
<rect class="s" x="1156.3" y="1171.7" width="17.6" height="17.6"/>
<rect class="s" x="987" y="1185.3" width="17.6" height="17.6"/>
<rect class="s" x="1040.6" y="1190.1" width="17.6" height="17.6"/>
<rect class="s" x="1098.7" y="1207.5" width="17.6" height="17.6"/>
<rect class="s" x="1044.4" y="1193.1" width="17.6" height="17.6"/>
<rect class="s" x="848.7" y="1251" width="17.6" height="17.6"/>
<rect class="s" x="898.2" y="1208.2" width="17.6" height="17.6"/>
<rect class="s" x="924.5" y="1238.6" width="17.6" height="17.6"/>
<rect class="s" x="990.8" y="1203.5" width="17.6" height="17.6"/>
<rect class="s" x="993.9" y="1221" width="17.6" height="17.6"/>
<rect class="s" x="962" y="1237" width="17.6" height="17.6"/>
<rect class="s" x="966.8" y="1246.6" width="17.6" height="17.6"/>
<rect class="s" x="979.6" y="1237" width="17.6" height="17.6"/>
<rect class="s" x="966.8" y="1265.7" width="17.6" height="17.6"/>
<rect class="s" x="907.7" y="1262.5" width="17.6" height="17.6"/>
<rect class="s" x="918.9" y="1256.1" width="17.6" height="17.6"/>
<rect class="s" x="934.9" y="1259.3" width="17.6" height="17.6"/>
<rect class="s" x="942.9" y="1268.9" width="17.6" height="17.6"/>
<rect class="s" x="941.3" y="1281.7" width="17.6" height="17.6"/>
<rect class="s" x="950.8" y="1281.7" width="17.6" height="17.6"/>
<rect class="s" x="931.7" y="1280.1" width="17.6" height="17.6"/>
<rect class="s" x="891.8" y="1280.9" width="17.6" height="17.6"/>
<rect class="s" x="894.2" y="1292.1" width="17.6" height="17.6"/>
<rect class="s" x="887" y="1310.4" width="17.6" height="17.6"/>
<rect class="s" x="907.7" y="1312" width="17.6" height="17.6"/>
<rect class="s" x="906.1" y="1331.2" width="17.6" height="17.6"/>
<rect class="s" x="867" y="1335.2" width="17.6" height="17.6"/>
<rect class="s" x="897.4" y="1342.3" width="17.6" height="17.6"/>
<rect class="s" x="906.1" y="1366.3" width="17.6" height="17.6"/>
<rect class="s" x="847.1" y="1388.6" width="17.6" height="17.6"/>
<rect class="s" x="1037" y="1296.1" width="17.6" height="17.6"/>
<rect class="s" x="1037" y="1193.9" width="17.6" height="17.6"/>
<rect class="s" x="995" y="1202.7" width="17.6" height="17.6"/>
<rect class="s" x="1025.7" y="1210.4" width="17.6" height="17.6"/>
<rect class="s" x="996.9" y="1229.5" width="17.6" height="17.6"/>
<rect class="s" x="847.5" y="1395.4" width="17.6" height="17.6"/>
<rect class="s" x="842.3" y="1410.2" width="17.6" height="17.6"/>
<rect class="s" x="805" y="1420.4" width="17.6" height="17.6"/>
<rect class="s" x="780" y="1438.9" width="17.6" height="17.6"/>
<rect class="s" x="842.3" y="1487.8" width="17.6" height="17.6"/>
<rect class="s" x="843.7" y="1553.5" width="17.6" height="17.6"/>
<rect class="s" x="921.3" y="1354.6" width="17.6" height="17.6"/>
<rect class="s" x="759.5" y="1466.8" width="17.6" height="17.6"/>
<rect class="s" x="719.6" y="1569.5" width="17.6" height="17.6"/>
<circle class="b" cx="783.1" cy="1202.4" r="11.2"/>
<path class="be" d="M738.2 1202.4H821.9M783.1 1187.5V1215.6"/>
<circle class="b" cx="1098.7" cy="1095.2" r="11.2"/>
<path class="be" d="M1063 1095.2H1135M1098.7 1075V1150"/>
<circle class="b" cx="1136.1" cy="1095.2" r="11.2"/>
<path class="be" d="M1110 1095.2H1162M1136.1 1060V1130"/>
<circle class="b" cx="1153" cy="1092.5" r="11.2"/>
<path class="be" d="M1134 1092.5H1173.9M1153 1070.5V1114.5"/>
<circle class="b" cx="1161.6" cy="1097" r="11.2"/>
<path class="be" d="M1140 1097H1180M1161.6 1078V1116"/>
<circle class="b" cx="1156" cy="1120.4" r="11.2"/>
<path class="be" d="M1138 1120.4H1175M1156 1100V1140"/>
<circle class="b" cx="1121.8" cy="1133.5" r="11.2"/>
<path class="be" d="M1072 1133.5H1146M1121.8 1110V1157"/>
<circle class="b" cx="1118.5" cy="1142.2" r="11.2"/>
<path class="be" d="M1095 1142.2H1140M1118.5 1118V1166"/>
<circle class="b" cx="1031.8" cy="1156.7" r="11.2"/>
<path class="be" d="M1003 1156.7H1060M1031.8 1115V1200"/>
<circle class="b" cx="1044.6" cy="1168.2" r="11.2"/>
<path class="be" d="M900 1168.2H1071M1044.6 1145V1190"/>
<circle class="b" cx="1080.1" cy="1165.3" r="11.2"/>
<path class="be" d="M1055 1165.3H1106M1080.1 1142V1188"/>
<circle class="b" cx="1102.9" cy="1155.4" r="11.2"/>
<path class="be" d="M1080 1155.4H1122M1102.9 1132V1178"/>
<circle class="b" cx="1115" cy="1173" r="11.2"/>
<path class="be" d="M1090 1173H1140M1115 1150V1196"/>
<circle class="b" cx="1136.8" cy="1155.6" r="11.2"/>
<path class="be" d="M1115 1155.6H1175M1136.8 1132V1178"/>
<circle class="b" cx="1142.4" cy="1164.8" r="11.2"/>
<path class="be" d="M1120 1164.8H1185M1142.4 1142V1188"/>
<circle class="b" cx="1089.8" cy="1185.6" r="11.2"/>
<path class="be" d="M1034 1185.6H1112M1089.8 1163V1208"/>
<circle class="b" cx="1212" cy="1147.3" r="11.2"/>
<path class="be" d="M1194.5 1147.3H1226.4M1212 1130.9V1163.3"/>
<circle class="b" cx="1050" cy="1163.6" r="11.2"/>
<path class="be" d="M1032 1163.6H1069.8M1050 1143.6V1183.6"/>
<circle class="b" cx="1078.7" cy="1209.9" r="11.2"/>
<path class="be" d="M1055 1209.9H1100M1078.7 1188V1232"/>
<circle class="b" cx="1089.9" cy="1224.3" r="11.2"/>
<path class="be" d="M1066 1224.3H1112M1089.9 1202V1246"/>
<circle class="b" cx="1054.8" cy="1225.9" r="11.2"/>
<path class="be" d="M1030 1225.9H1078M1054.8 1204V1248"/>
<circle class="b" cx="895.8" cy="1208.7" r="11.2"/>
<path class="be" d="M851.9 1208.7H932.5M895.8 1185.9V1230"/>
<circle class="b" cx="904.6" cy="1228.2" r="11.2"/>
<path class="be" d="M868.3 1228.2H935.7M904.6 1133.7V1321.6"/>
<circle class="b" cx="922.9" cy="1222.6" r="11.2"/>
<path class="be" d="M902.2 1222.6H941.3M922.9 1205.9V1236.2"/>
<circle class="b" cx="1015.5" cy="1227.2" r="11.2"/>
<path class="be" d="M992 1227.2H1038M1015.5 1180V1250"/>
<circle class="b" cx="1023.7" cy="1240.3" r="11.2"/>
<path class="be" d="M1000 1240.3H1046M1023.7 1218V1262"/>
<circle class="b" cx="995.6" cy="1250.9" r="11.2"/>
<path class="be" d="M970 1250.9H1020M995.6 1228V1272"/>
<circle class="b" cx="1029.8" cy="1257.2" r="11.2"/>
<path class="be" d="M1006 1257.2H1052M1029.8 1235V1280"/>
<circle class="b" cx="1045.8" cy="1221" r="11.2"/>
<path class="be" d="M1023 1221H1070M1045.8 1190V1245"/>
<circle class="b" cx="930.9" cy="1281.7" r="11.2"/>
<path class="be" d="M912 1281.7H952M930.9 1260V1303"/>
<circle class="b" cx="998" cy="1272.9" r="11.2"/>
<path class="be" d="M975 1272.9H1020M998 1250V1295"/>
<circle class="b" cx="985.2" cy="1289.7" r="11.2"/>
<path class="be" d="M962 1289.7H1008M985.2 1268V1311"/>
<circle class="b" cx="1043.3" cy="1293.2" r="11.2"/>
<path class="be" d="M1000 1293.2H1096.7M1043.3 1265V1330"/>
<circle class="b" cx="1025.2" cy="1321.8" r="11.2"/>
<path class="be" d="M985 1321.8H1057.1M1025.2 1300V1343"/>
<circle class="b" cx="938.1" cy="1330.4" r="11.2"/>
<path class="be" d="M915 1330.4H960M938.1 1305V1352"/>
<circle class="b" cx="943.7" cy="1341.6" r="11.2"/>
<path class="be" d="M920 1341.6H967M943.7 1320V1363"/>
<circle class="b" cx="969.2" cy="1333.6" r="11.2"/>
<path class="be" d="M946 1333.6H992M969.2 1311V1355"/>
<circle class="b" cx="966" cy="1349.6" r="11.2"/>
<path class="be" d="M943 1349.6H990M966 1327V1371"/>
<circle class="b" cx="953.3" cy="1363.9" r="11.2"/>
<path class="be" d="M930 1363.9H977M953.3 1342V1386"/>
<circle class="b" cx="948.9" cy="1375.5" r="11.2"/>
<path class="be" d="M926 1375.5H972M948.9 1353V1398"/>
<circle class="b" cx="892.5" cy="1368" r="11.2"/>
<path class="be" d="M858.3 1368H945M892.5 1346V1390"/>
<circle class="b" cx="888.7" cy="1389.8" r="11.2"/>
<path class="be" d="M830 1389.8H950M888.7 1368V1411"/>
<circle class="b" cx="926" cy="1389.4" r="11.2"/>
<path class="be" d="M880 1389.4H975M926 1368V1411"/>
<circle class="b" cx="950.1" cy="1392.7" r="11.2"/>
<path class="be" d="M930.1 1392.7H972.1M950.1 1370.7V1414.7"/>
<circle class="b" cx="985.4" cy="1395.6" r="11.2"/>
<path class="be" d="M940 1395.6H1030.7M985.4 1374V1418"/>
<circle class="b" cx="988.5" cy="1416.1" r="11.2"/>
<path class="be" d="M945 1416.1H1028.7M988.5 1394V1438"/>
<circle class="b" cx="1000" cy="1251.7" r="11.2"/>
<path class="be" d="M977 1251.7H1025.3M1000 1230.7V1272.7"/>
<circle class="b" cx="1080.5" cy="1238.3" r="11.2"/>
<path class="be" d="M1058 1238.3H1135.8M1080.5 1216V1260"/>
<circle class="b" cx="1065.1" cy="1249.8" r="11.2"/>
<path class="be" d="M1042 1249.8H1088M1065.1 1228V1272"/>
<circle class="b" cx="1076.6" cy="1267.4" r="11.2"/>
<path class="be" d="M1054 1267.4H1100M1076.6 1215V1319.7"/>
<circle class="b" cx="772.2" cy="1461" r="11.2"/>
<path class="be" d="M734.5 1461H803.4M772.2 1452V1470"/>
<circle class="b" cx="763.2" cy="1473.8" r="11.2"/>
<path class="be" d="M723.3 1473.8H797.7M763.2 1465V1483"/>
<circle class="b" cx="821.2" cy="1473.3" r="11.2"/>
<path class="be" d="M780 1473.3H862.6M821.2 1455V1492"/>
<circle class="b" cx="801" cy="1497" r="11.2"/>
<path class="be" d="M769.7 1497H845M801 1475V1520"/>
<circle class="b" cx="954" cy="1470.3" r="11.2"/>
<path class="be" d="M929.1 1470.3H976M954 1451.5V1487.9"/>
<circle class="b" cx="878.4" cy="1574.1" r="11.2"/>
<path class="be" d="M849.6 1574.1H905.2M878.4 1565V1583"/>
<circle class="b" cx="684" cy="1650.5" r="11.2"/>
<path class="be" d="M633.4 1650.5H725.3M684 1642V1659"/>
<circle class="b" cx="960.7" cy="1355.7" r="11.2"/>
<path class="be" d="M941.7 1355.7H981.6M960.7 1335.7V1375.7"/>
<path d="M615.2 1755L1290 939.4" stroke="#cd1c1f" stroke-opacity=".76" stroke-width="6.9" fill="none"/>
</g>
<rect class="sp" x="410.5" y="2.0" width="871.7" height="871.9"/>
<rect class="sp" x="410.5" y="873.9" width="871.7" height="871.1"/>
<path class="mk" d="M405.3 35.8H409.0"/>
<path class="mk" d="M405.3 118H409.0"/>
<path class="tk" d="M400.8 200.2H409.0"/>
<text x="382" y="217" font-size="43" letter-spacing=".2" text-anchor="end">11</text>
<path class="mk" d="M405.3 282.4H409.0"/>
<path class="mk" d="M405.3 364.6H409.0"/>
<path class="mk" d="M405.3 446.8H409.0"/>
<path class="tk" d="M400.8 529H409.0"/>
<text x="382" y="545.8" font-size="43" letter-spacing=".2" text-anchor="end">9</text>
<path class="mk" d="M405.3 611.2H409.0"/>
<path class="mk" d="M405.3 693.4H409.0"/>
<path class="mk" d="M405.3 775.6H409.0"/>
<path class="tk" d="M400.8 857.8H409.0"/>
<text x="382" y="874.6" font-size="43" letter-spacing=".2" text-anchor="end">7</text>
<path class="tk" d="M400.8 913.6H409.0"/>
<text x="382" y="930.4" font-size="43" letter-spacing=".2" text-anchor="end">12</text>
<path class="tk" d="M400.8 1111.8H409.0"/>
<text x="382" y="1128.6" font-size="43" letter-spacing=".2" text-anchor="end">11</text>
<path class="tk" d="M400.8 1310H409.0"/>
<text x="382" y="1326.8" font-size="43" letter-spacing=".2" text-anchor="end">10</text>
<path class="tk" d="M400.8 1508.2H409.0"/>
<text x="382" y="1525" font-size="43" letter-spacing=".2" text-anchor="end">9</text>
<path class="tk" d="M400.8 1706.4H409.0"/>
<text x="382" y="1723.2" font-size="43" letter-spacing=".2" text-anchor="end">8</text>
<path class="mk" d="M405.3 963.1H409.0"/>
<path class="mk" d="M405.3 1012.7H409.0"/>
<path class="mk" d="M405.3 1062.2H409.0"/>
<path class="mk" d="M405.3 1161.3H409.0"/>
<path class="mk" d="M405.3 1210.9H409.0"/>
<path class="mk" d="M405.3 1260.5H409.0"/>
<path class="mk" d="M405.3 1359.5H409.0"/>
<path class="mk" d="M405.3 1409.1H409.0"/>
<path class="mk" d="M405.3 1458.7H409.0"/>
<path class="mk" d="M405.3 1557.8H409.0"/>
<path class="mk" d="M405.3 1607.3H409.0"/>
<path class="mk" d="M405.3 1656.8H409.0"/>
<path class="tk" d="M573 1746.5V1755.3"/>
<text x="573" y="1808.3" font-size="43" letter-spacing=".2" text-anchor="middle">20</text>
<path class="tk" d="M789.8 1746.5V1755.3"/>
<text x="789.8" y="1808.3" font-size="43" letter-spacing=".2" text-anchor="middle">50</text>
<path class="tk" d="M954 1746.5V1755.3"/>
<text x="954" y="1808.3" font-size="43" letter-spacing=".2" text-anchor="middle">100</text>
<path class="tk" d="M1117.5 1746.5V1755.3"/>
<text x="1117.5" y="1808.3" font-size="43" letter-spacing=".2" text-anchor="middle">200</text>
<text font-size="34.4" y="99.6"><tspan x="453.8" font-style="italic">α</tspan><tspan x="486.7">=</tspan><tspan x="527.2">4.1</tspan><tspan x="593.9">±</tspan><tspan x="633.1">0.3</tspan></text>
<text font-size="34.4" y="143.6"><tspan x="453.6" font-style="italic">β</tspan><tspan x="485.7">=</tspan><tspan x="526.1">1.2</tspan><tspan x="591.1">±</tspan><tspan x="630.6">0.7</tspan></text>
<text font-size="34.4" y="186.9"><tspan x="454.6" font-style="italic">σ</tspan><tspan x="485.7">=</tspan><tspan x="525.8">0.50</tspan></text>
<text font-size="34.4" y="230.4"><tspan x="451.4">MAD</tspan><tspan x="533.5">*</tspan><tspan x="561.6">=</tspan><tspan x="601.3">0.31</tspan></text>
<text font-size="34.4" y="971.2"><tspan x="453.8" font-style="italic">α</tspan><tspan x="486.7">=</tspan><tspan x="527.2">3.3</tspan><tspan x="593.9">±</tspan><tspan x="633.1">0.2</tspan></text>
<text font-size="34.4" y="1015.2"><tspan x="453.6" font-style="italic">β</tspan><tspan x="485.7">=</tspan><tspan x="526.1">3.2</tspan><tspan x="591.1">±</tspan><tspan x="630.6">0.5</tspan></text>
<text font-size="34.4" y="1058.5"><tspan x="454.6" font-style="italic">σ</tspan><tspan x="485.7">=</tspan><tspan x="525.8">0.39</tspan></text>
<text font-size="34.4" y="1102"><tspan x="451.4">MAD</tspan><tspan x="533.5">*</tspan><tspan x="561.6">=</tspan><tspan x="601.3">0.22</tspan></text>
<text transform="translate(299.7 0) rotate(-90)" font-size="69.4"><tspan x="-656.5" y="0">log</tspan><tspan x="-550.5" y="11.7" font-size="48.6">10</tspan><tspan x="-486.2" y="0">(</tspan><tspan x="-460.2" y="0">M</tspan><tspan x="-399.2" y="11.7" font-size="48.6">*</tspan><tspan x="-372.2" y="0">/</tspan><tspan x="-350.4" y="0">M</tspan><tspan x="-289.1" y="11.7" font-size="48.6">⊙</tspan><tspan x="-246.3" y="0">)</tspan></text>
<text transform="translate(299.7 0) rotate(-90)" font-size="69.4"><tspan x="-1531.2" y="0">log</tspan><tspan x="-1425.2" y="11.7" font-size="48.6">10</tspan><tspan x="-1360.9" y="0">(</tspan><tspan x="-1334.9" y="0">M</tspan><tspan x="-1273.9" y="11.7" font-size="48.6">b</tspan><tspan x="-1240.4" y="0">/</tspan><tspan x="-1218.6" y="0">M</tspan><tspan x="-1157.3" y="11.7" font-size="48.6">⊙</tspan><tspan x="-1114.5" y="0">)</tspan></text>
<text y="1877.3" font-size="69.4"><tspan x="675.9">V</tspan><tspan x="723.3" dy="10.5" font-size="48.6">HI</tspan><tspan x="798.2" dy="-10.5" letter-spacing="-.4">(km/s)</tspan></text>
<rect x="2.8" y="1928.8" width="1560.6" height="206.2" rx="7.7" ry="7.7" fill="#fff" stroke="#d2d2d2" stroke-width="2.6"/>
<circle cx="63.7" cy="1964.6" r="11.9" fill="#000"/>
<circle cx="63.7" cy="2028.1" r="11.6" fill="#687ce4"/>
<circle cx="63.7" cy="2092.8" r="10.6" fill="#808080" fill-opacity=".67" stroke="#808080" stroke-opacity=".67" stroke-width="2.2"/>
<text x="140" y="1980.3" font-size="43" letter-spacing=".25">WALLABY</text>
<text x="140" y="2044.6" font-size="43" letter-spacing=".25">Inclination Matched</text>
<text x="140" y="2107" font-size="43" letter-spacing=".25">Stellar Sample</text>
<path d="M695 1944.5L715.9 1985.6H674.1Z" fill="#8a2be2" fill-opacity=".5" stroke="#8a2be2" stroke-opacity=".5" stroke-width="1.2"/>
<path d="M695 1997.3L725.4 2027.7L695 2058.1L664.6 2027.7Z" fill="#bfbf00" fill-opacity=".4" stroke="#bfbf00" stroke-opacity=".4" stroke-width="1.2"/>
<rect x="674" y="2072.2" width="42" height="42" fill="#2a6e12" fill-opacity=".55" stroke="#2a6e12" stroke-opacity=".55" stroke-width="1.2"/>
<text x="772.6" y="1980.3" font-size="43" letter-spacing=".25">SPARC</text>
<text x="772.6" y="2044.8" font-size="43" letter-spacing=".25">MIGHTEE-w50</text>
<text x="772.6" y="2108" font-size="43" letter-spacing=".25">MIGHTEE-<tspan font-style="italic">v</tspan><tspan font-size="30.1" dy="6.5">out</tspan></text>
<path d="M1158 1964H1251.8" stroke="#cd1c1f" stroke-width="8.3" fill="none"/>
<path d="M1161.5 2027.5H1248" stroke="#000" stroke-width="8.3" stroke-dasharray="26.4 10.5" fill="none"/>
<text x="1281.5" y="1980.3" font-size="43" letter-spacing=".25">Best Fit</text>
<text x="1281.5" y="2044.8" font-size="43" letter-spacing=".25">Arora+2023</text>
</svg></body></html>
